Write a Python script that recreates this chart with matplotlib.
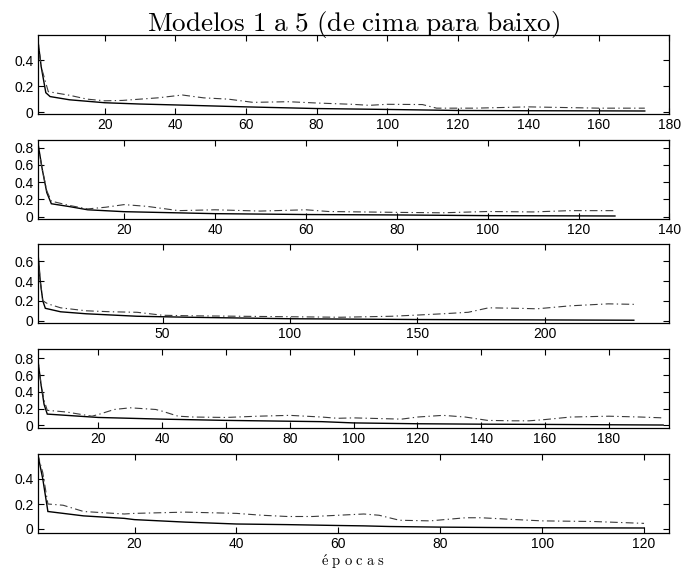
import matplotlib
matplotlib.use('Agg')
import matplotlib.pyplot as plt

plt.rcParams['mathtext.fontset'] = 'cm'
plt.rcParams['font.family'] = ['Liberation Sans', 'DejaVu Sans']

# model 1
ep1_a = [1, 2, 3.3, 4.5, 10, 20, 30, 40, 60, 80, 100, 120, 140, 160, 173]
loss1_a = [0.57, 0.35, 0.15, 0.12, 0.095, 0.072, 0.062, 0.055, 0.04, 0.027, 0.02, 0.012, 0.01, 0.009, 0.008]
ep1_b = [1, 2, 4, 10, 15, 20, 25, 30, 35, 42, 48, 55, 62, 72, 80, 90, 95, 100, 110, 114, 125, 140, 150, 160, 173]
loss1_b = [0.57, 0.35, 0.158, 0.13, 0.1, 0.087, 0.09, 0.1, 0.11, 0.132, 0.11, 0.1, 0.075, 0.08, 0.07, 0.06, 0.052, 0.06, 0.058, 0.03, 0.03, 0.04, 0.035, 0.03, 0.03]

# model 2
ep2_a = [1, 2, 3, 4, 8, 12, 20, 40, 60, 80, 100, 128]
loss2_a = [0.87, 0.55, 0.28, 0.15, 0.117, 0.08, 0.058, 0.035, 0.025, 0.02, 0.012, 0.008]
ep2_b = [1, 2, 3, 4, 8, 12, 16, 20, 25, 32, 40, 50, 60, 65, 80, 90, 100, 110, 118, 128]
loss2_b = [0.85, 0.55, 0.3, 0.18, 0.13, 0.09, 0.11, 0.14, 0.12, 0.07, 0.08, 0.065, 0.08, 0.06, 0.05, 0.045, 0.06, 0.055, 0.07, 0.07]

# model 3
ep3_a = [1, 2, 3, 4, 10, 20, 40, 60, 100, 150, 200, 235]
loss3_a = [0.72, 0.4, 0.2, 0.125, 0.09, 0.07, 0.045, 0.035, 0.02, 0.012, 0.008, 0.005]
ep3_b = [1, 2, 3, 5, 10, 20, 30, 40, 50, 60, 80, 100, 120, 140, 150, 160, 170, 178, 190, 197, 210, 225, 235]
loss3_b = [0.7, 0.4, 0.2, 0.17, 0.13, 0.1, 0.09, 0.085, 0.055, 0.05, 0.045, 0.04, 0.035, 0.045, 0.057, 0.07, 0.085, 0.13, 0.125, 0.12, 0.15, 0.17, 0.165]

# model 4
ep4_a = [1, 2, 3, 4, 20, 40, 60, 80, 90, 100, 120, 140, 160, 180, 197]
loss4_a = [0.8, 0.5, 0.25, 0.135, 0.095, 0.075, 0.06, 0.05, 0.045, 0.03, 0.02, 0.015, 0.012, 0.008, 0.005]
ep4_b = [1, 2, 3, 4, 10, 18, 20, 25, 30, 38, 40, 45, 50, 60, 70, 80, 90, 95, 100, 110, 115, 120, 128, 135, 142, 150, 155, 160, 168, 180, 190, 197]
loss4_b = [0.8, 0.5, 0.3, 0.18, 0.16, 0.11, 0.13, 0.19, 0.21, 0.19, 0.17, 0.11, 0.1, 0.095, 0.11, 0.12, 0.1, 0.085, 0.09, 0.08, 0.075, 0.1, 0.12, 0.1, 0.06, 0.055, 0.055, 0.07, 0.1, 0.11, 0.1, 0.09]

# model 5
ep5_a = [1, 2, 3, 10, 18, 20, 30, 40, 50, 60, 65, 70, 80, 90, 100, 120]
loss5_a = [0.6, 0.4, 0.14, 0.105, 0.085, 0.075, 0.055, 0.04, 0.035, 0.028, 0.025, 0.02, 0.015, 0.012, 0.01, 0.008]
ep5_b = [1, 2, 3, 6, 10, 18, 20, 25, 30, 40, 45, 50, 55, 60, 65, 68, 72, 78, 85, 88, 95, 100, 110, 120]
loss5_b = [0.6, 0.45, 0.2, 0.19, 0.14, 0.12, 0.125, 0.13, 0.135, 0.125, 0.11, 0.1, 0.1, 0.11, 0.12, 0.11, 0.07, 0.065, 0.09, 0.09, 0.075, 0.065, 0.06, 0.045]

curves = [(ep1_a, loss1_a, ep1_b, loss1_b),
          (ep2_a, loss2_a, ep2_b, loss2_b),
          (ep3_a, loss3_a, ep3_b, loss3_b),
          (ep4_a, loss4_a, ep4_b, loss4_b),
          (ep5_a, loss5_a, ep5_b, loss5_b)]

xmax = [180, 140, 249, 199, 125]
ylims = [(-0.013, 0.6), (-0.027, 0.89), (-0.026, 0.77), (-0.027, 0.914), (-0.032, 0.6)]
xticks = [range(20, 181, 20), range(20, 141, 20), range(50, 201, 50), range(20, 181, 20), range(20, 121, 20)]
yticks = [[0, 0.2, 0.4], [0, 0.2, 0.4, 0.6, 0.8], [0, 0.2, 0.4, 0.6], [0, 0.2, 0.4, 0.6, 0.8], [0, 0.2, 0.4]]

W, H = 683, 573
fig = plt.figure(figsize=(W / 100, H / 100), dpi=100)
tops = [34.7, 140, 244.3, 348.7, 454]
axh = 79.0

axs = []
for i, (ea, la, eb, lb) in enumerate(curves):
    ax = fig.add_axes([37.7 / W, 1 - (tops[i] + axh) / H, (669.5 - 37.7) / W, axh / H])
    ax.plot(ea, la, color='black', lw=1.0, solid_joinstyle='miter')
    ax.plot(eb, lb, color='#3a3a3a', lw=0.8, dashes=(7, 3, 1.2, 3))
    ax.set_xlim(1, xmax[i])
    ax.set_ylim(*ylims[i])
    ax.set_xticks(list(xticks[i]))
    ax.set_yticks(yticks[i])
    ax.set_yticklabels(['0' if v == 0 else f'{v:g}' for v in yticks[i]])
    ax.tick_params(direction='in', top=True, right=True, length=4, width=0.8,
                   labelsize=10, pad=3)
    for s in ax.spines.values():
        s.set_linewidth(0.9)
    axs.append(ax)

axs[0].set_title(r'$\mathrm{Modelos\ 1\ a\ 5\ (de\ cima\ para\ baixo)}$', fontsize=19.5, pad=3)
axs[-1].set_xlabel(r'$\mathrm{\acute{e}\ p\ o\ c\ a\ s}$', fontsize=10.5, labelpad=1)

fig.savefig('out.png', dpi=100)
